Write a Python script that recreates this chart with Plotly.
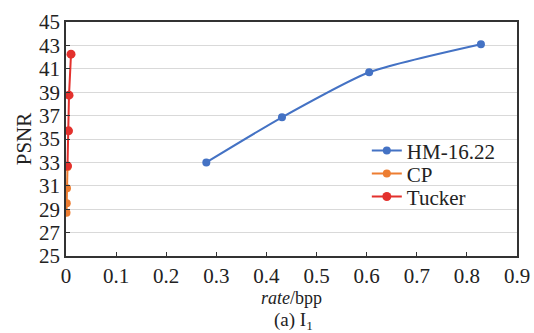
import plotly.graph_objects as go

hm_rate = [0.28, 0.431, 0.605, 0.828]
hm_psnr = [33.0, 36.85, 40.7, 43.1]
cp_rate = [0.001, 0.0015, 0.002, 0.003]
cp_psnr = [28.7, 29.5, 30.8, 32.6]
tucker_rate = [0.003, 0.005, 0.006, 0.010]
tucker_psnr = [32.7, 35.7, 38.75, 42.25]

x_ticks = [0, 0.1, 0.2, 0.3, 0.4, 0.5, 0.6, 0.7, 0.8, 0.9]
x_tick_text = ["0", "0.1", "0.2", "0.3", "0.4", "0.5", "0.6", "0.7", "0.8", "0.9"]
y_ticks = [25, 27, 29, 31, 33, 35, 37, 39, 41, 43, 45]

FONT = "Liberation Serif, Times New Roman, serif"

fig = go.Figure()
fig.add_trace(go.Scatter(x=hm_rate, y=hm_psnr, name="HM-16.22", mode="lines+markers",
                         legend="legend",
                         line=dict(color="#4472C4", width=2, shape="spline", smoothing=0.6),
                         marker=dict(color="#4472C4", size=8)))
fig.add_trace(go.Scatter(x=cp_rate, y=cp_psnr, name="CP", mode="lines+markers",
                         legend="legend2",
                         line=dict(color="#ED7D31", width=2),
                         marker=dict(color="#ED7D31", size=8)))
fig.add_trace(go.Scatter(x=tucker_rate, y=tucker_psnr, name="Tucker", mode="lines+markers",
                         legend="legend3",
                         line=dict(color="#E3312D", width=2),
                         marker=dict(color="#E3312D", size=9)))

def leg(y):
    return dict(x=0.667, y=y, xanchor="left", yanchor="middle",
                bgcolor="rgba(0,0,0,0)", font=dict(size=21, family=FONT, color="#222222"),
                itemwidth=30)

fig.update_layout(
    width=534, height=333,
    margin=dict(l=66, r=17, t=22, b=77),
    paper_bgcolor="white", plot_bgcolor="white",
    font=dict(family=FONT, size=21, color="#222222"),
    showlegend=True,
    legend=leg(0.449),
    legend2=leg(0.351),
    legend3=leg(0.253),
    xaxis=dict(range=[0, 0.9], tickvals=x_ticks, ticktext=x_tick_text,
               showgrid=False, zeroline=False, automargin=False,
               showline=True, linecolor="#333333", linewidth=1.5, mirror=True,
               ticks="inside", ticklen=4, tickcolor="#333333",
               tickfont=dict(size=21, family=FONT),
               title=dict(text="<i>rate</i>/bpp", font=dict(size=18, family=FONT), standoff=4)),
    yaxis=dict(range=[25, 45], tickvals=y_ticks,
               showgrid=True, gridcolor="#D9D9D9", gridwidth=1.2, zeroline=False, automargin=False,
               showline=True, linecolor="#333333", linewidth=1.5, mirror=True,
               ticks="inside", ticklen=4, tickcolor="#333333",
               tickfont=dict(size=21, family=FONT),
               title=dict(text="PSNR", font=dict(size=21, family=FONT), standoff=2)),
    annotations=[dict(text="(a) I<sub>1</sub>", xref="paper", yref="paper",
                      x=0.505, y=-0.279, xanchor="center", yanchor="middle", showarrow=False,
                      font=dict(size=19, family=FONT))],
)

fig.write_html("out.html", config={"displayModeBar": False},
               post_script="document.body.style.margin='0';")
